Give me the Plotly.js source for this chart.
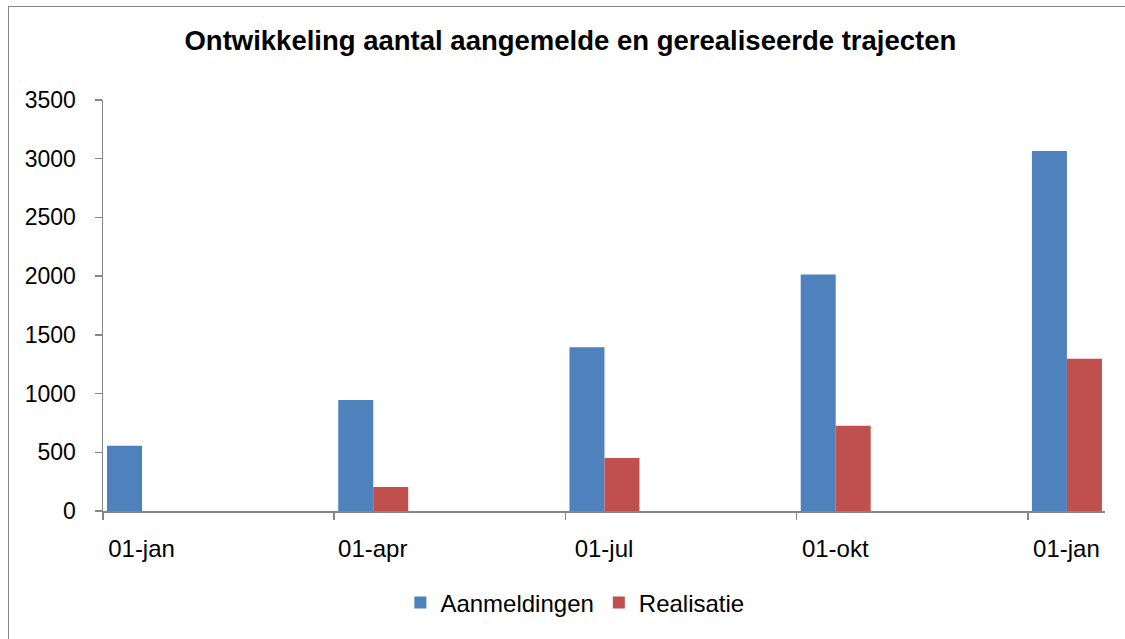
<!DOCTYPE html>
<html>
<head>
<meta charset="utf-8">
<script src="https://cdn.plot.ly/plotly-3.0.1.min.js"></script>
<style>
  html, body { margin: 0; padding: 0; background: #fff; overflow: hidden; }
  #frame { position: absolute; left: 8px; top: 6px; width: 1300px; height: 800px;
           border-left: 1px solid #868686; border-top: 1px solid #868686; pointer-events: none; }
  #chart { position: absolute; left: 0; top: 0; width: 1125px; height: 639px; }
</style>
</head>
<body>
<div id="chart"></div>
<div id="frame"></div>
<script>
// Data
const categories = ["01-jan", "01-apr", "01-jul", "01-okt", "01-jan"];
const monthIndex = [0, 3, 6, 9, 12];           // months since first date (date axis, monthly base)
const aanmeldingen = [555, 945, 1395, 2015, 3065];
const realisatie = [0, 205, 452, 727, 1297];
const seriesNames = ["Aanmeldingen", "Realisatie"];
const titleText = "Ontwikkeling aantal aangemelde en gerealiseerde trajecten";

const FONT = "Liberation Sans, Arial, sans-serif";
const AXIS = "#868686";
const labelPos = monthIndex.map(m => m + 0.5);   // labels centred in each month slot

const traces = [
  { type: "bar", name: seriesNames[0], x: monthIndex, y: aanmeldingen,
    offset: 0.052, width: 0.454,
    marker: { color: "#4F81BD", line: { width: 0 } }, hoverinfo: "y" },
  { type: "bar", name: seriesNames[1], x: monthIndex, y: realisatie,
    offset: 0.506, width: 0.454,
    marker: { color: "#C0504D", line: { width: 0 } }, hoverinfo: "y" },
  { type: "scatter", mode: "markers", x: labelPos, y: labelPos.map(() => null),
    xaxis: "x2", yaxis: "y", showlegend: false, hoverinfo: "skip" }
];

const layout = {
  width: 1125, height: 639,
  margin: { l: 103, r: 20, t: 100, b: 128 },
  paper_bgcolor: "rgba(0,0,0,0)", plot_bgcolor: "rgba(0,0,0,0)",
  barmode: "overlay",
  font: { family: FONT, size: 23, color: "#000" },
  title: { text: "<b>" + titleText + "</b>", xref: "container", x: 0.507, xanchor: "center",
           yref: "container", y: 1 - 40/639, yanchor: "middle",
           font: { family: FONT, size: 27.5, color: "#000" } },
  xaxis: {
    range: [0, 13], showgrid: false, zeroline: false,
    showline: true, linecolor: AXIS, linewidth: 1.5,
    tickmode: "array", tickvals: monthIndex, showticklabels: false,
    ticks: "outside", ticklen: 7, tickcolor: AXIS, tickwidth: 1.5, fixedrange: true
  },
  xaxis2: {
    overlaying: "x", anchor: "y", side: "bottom",
    range: [0, 13], showgrid: false, zeroline: false, showline: false,
    tickmode: "array", tickvals: labelPos, ticktext: categories,
    ticks: "outside", ticklen: 7, tickcolor: "rgba(0,0,0,0)",
    ticklabelstandoff: 9,
    tickfont: { family: FONT, size: 24, color: "#000" }, fixedrange: true
  },
  yaxis: {
    range: [0, 3500], dtick: 500, tick0: 0, showgrid: false, zeroline: false,
    showline: true, linecolor: AXIS, linewidth: 1.5,
    ticks: "outside", ticklen: 7, tickcolor: AXIS, tickwidth: 1.5,
    ticklabelstandoff: 14,
    tickfont: { family: FONT, size: 23, color: "#000" }, fixedrange: true
  },
  showlegend: true,
  legend: { orientation: "h", xref: "container", yref: "container",
            x: 0.511, xanchor: "center", y: 1 - 603/639, yanchor: "middle",
            font: { family: FONT, size: 24, color: "#000" },
            itemwidth: 30, tracegroupgap: 0, bgcolor: "rgba(0,0,0,0)" }
};

Plotly.newPlot("chart", traces, layout, { displayModeBar: false, staticPlot: true });
</script>
</body>
</html>
